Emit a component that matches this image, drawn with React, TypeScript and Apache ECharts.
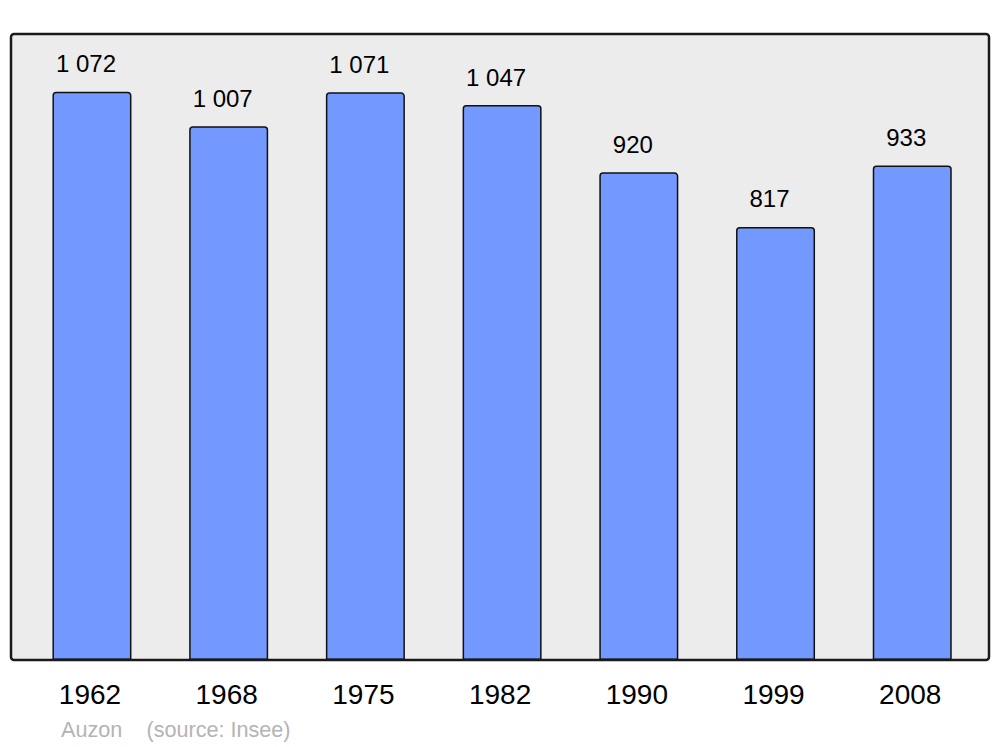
import React, { useEffect, useRef } from "react";
import * as echarts from "echarts";

const categories = ["1962", "1968", "1975", "1982", "1990", "1999", "2008"];
const population = [1072, 1007, 1071, 1047, 920, 817, 933];
const footerName = "Auzon";
const footerSource = "(source: Insee)";

const fmt = (v: number) =>
  v >= 1000 ? `${Math.floor(v / 1000)} ${String(v % 1000).padStart(3, "0")}` : String(v);

export default function App() {
  const ref = useRef<HTMLDivElement>(null);
  useEffect(() => {
    document.body.style.margin = "0";
    const chart = echarts.init(ref.current!, null, { renderer: "svg" });
    chart.setOption({
      animation: false,
      backgroundColor: "#ffffff",
      grid: { left: 23.6, right: 19.4, top: 34, bottom: 87 },
      xAxis: {
        type: "category",
        data: categories,
        axisLine: { show: false },
        axisTick: { show: false },
        axisLabel: {
          fontFamily: "Liberation Sans",
          fontSize: 28,
          color: "#000",
          margin: 20,
          padding: [0, 4, 0, 0],
        },
      },
      yAxis: { type: "value", min: 0, max: 1181, show: false },
      graphic: [
        {
          type: "rect",
          z: -10,
          shape: { x: 11, y: 34, width: 978, height: 626, r: 3 },
          style: { fill: "#ececec", stroke: "none" },
        },
        {
          type: "rect",
          z: 100,
          shape: { x: 11, y: 34, width: 978, height: 626, r: 3 },
          style: { fill: "none", stroke: "#1a1a1a", lineWidth: 2.5 },
        },
        {
          type: "text",
          x: 61,
          y: 729,
          style: {
            text: footerName,
            fontFamily: "Liberation Sans",
            fontSize: 21.6,
            fill: "#b4b4b4",
            verticalAlign: "middle",
          },
        },
        {
          type: "text",
          x: 146.5,
          y: 729,
          style: {
            text: footerSource,
            fontFamily: "Liberation Sans",
            fontSize: 21.6,
            fill: "#b4b4b4",
            verticalAlign: "middle",
          },
        },
      ],
      series: [
        {
          type: "bar",
          data: population,
          barWidth: 79,
          itemStyle: {
            color: "#7399ff",
            borderColor: "#111",
            borderWidth: 1.5,
            borderRadius: [3, 3, 0, 0],
          },
          label: {
            show: true,
            position: "top",
            distance: 16,
            offset: [-6, 0],
            fontFamily: "Liberation Sans",
            fontSize: 24,
            color: "#000",
            formatter: (p: any) => fmt(p.value),
          },
        },
      ],
    });
    return () => chart.dispose();
  }, []);
  return <div ref={ref} style={{ width: 1000, height: 747 }} />;
}
